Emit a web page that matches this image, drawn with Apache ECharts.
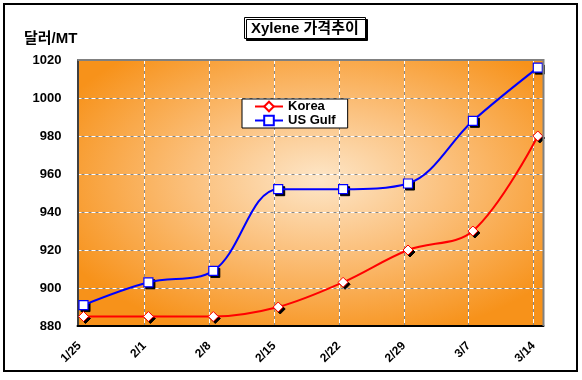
<!DOCTYPE html>
<html>
<head>
<meta charset="utf-8">
<script src="https://cdn.jsdelivr.net/npm/echarts@6/dist/echarts.min.js"></script>
<style>
html,body{margin:0;padding:0;background:#fff;}
#main{width:582px;height:380px;}
</style>
</head>
<body>
<div id="main"></div>
<script>
// ---- data ----
var categories = ['1/25', '2/1', '2/8', '2/15', '2/22', '2/29', '3/7', '3/14'];
var korea = [885, 885, 885, 890, 903, 920, 930, 980];
var usGulf = [891, 903, 909, 952, 952, 955, 988, 1016];
var seriesNames = ['Korea', 'US Gulf'];
var titleText = 'Xylene 가격추이';
var unitText = '달러/MT';
var yMin = 880, yMax = 1020, yStep = 20;

var FONT = '"Liberation Sans", "Noto Sans CJK KR", sans-serif';

// plot frame geometry
var PL = 77.5, PR = 543.5, PT = 60, PB = 326;
var W = 582, H = 380;

var chart = echarts.init(document.getElementById('main'), null, {renderer: 'canvas'});

var pw = PR - PL, ph = PB - PT;

function shadowSeries(name, data, symbol, size, z) {
  return {
    name: name + ' shadow', type: 'line', xAxisIndex: 3, yAxisIndex: 3,
    data: data, smooth: 0.35, silent: true,
    symbol: symbol, symbolSize: size, symbolOffset: [2, 2], showAllSymbol: true,
    lineStyle: {opacity: 0, width: 0},
    itemStyle: {color: '#000', borderColor: '#000', borderWidth: 1},
    z: z
  };
}

var option = {
  animation: false,
  backgroundColor: '#fff',
  title: [
    {
      text: titleText,
      left: 244, top: 17,
      padding: [4, 7, 3, 7],
      backgroundColor: '#fff',
      borderColor: '#000', borderWidth: 1,
      shadowColor: '#000', shadowOffsetX: 2, shadowOffsetY: 2, shadowBlur: 0,
      textStyle: {fontFamily: FONT, fontSize: 15, fontWeight: 'bold', color: '#000'}
    },
    {
      text: unitText,
      left: 24, top: 31,
      padding: 0,
      textStyle: {fontFamily: FONT, fontSize: 15, fontWeight: 'bold', color: '#000'}
    }
  ],
  legend: {
    data: seriesNames,
    orient: 'vertical',
    left: 242, top: 99,
    padding: [1, 12, 1, 12],
    itemGap: 1,
    itemWidth: 28, itemHeight: 12,
    backgroundColor: '#fff',
    borderColor: '#000', borderWidth: 1,
    textStyle: {fontFamily: FONT, fontSize: 13, fontWeight: 'bold', color: '#000'}
  },
  grid: [
    {left: PL, right: W - PR, top: PT, bottom: H - PB, containLabel: false},          // frame / horizontal lines
    {left: 79.5, right: W - 533.5, top: PT, bottom: H - PB, containLabel: false},      // vertical lines + x labels
    {left: 83.5, right: W - 537.8, top: PT, bottom: H - PB, containLabel: false}       // data
  ],
  xAxis: [
    {gridIndex: 0, type: 'value', min: 0, max: 1, show: true,
     axisLine: {show: true, lineStyle: {color: '#000', width: 2}},
     axisTick: {show: false}, axisLabel: {show: false}, splitLine: {show: false}},
    {gridIndex: 1, type: 'category', data: categories, boundaryGap: false,
     axisLine: {show: false}, axisTick: {show: false},
     axisLabel: {show: true, rotate: 45, margin: 18, interval: 0,
       fontFamily: FONT, fontSize: 12, fontWeight: 'bold', color: '#000'},
     splitLine: {show: true, interval: function (i) { return i !== 0; },
       lineStyle: {color: '#888', width: 1, type: 'solid'}}},
    {gridIndex: 1, type: 'category', data: categories, boundaryGap: false,
     axisLine: {show: false}, axisTick: {show: false}, axisLabel: {show: false},
     splitLine: {show: true, interval: function (i) { return i !== 0; },
       lineStyle: {color: '#fff', width: 1, type: [4, 3]}}},
    {gridIndex: 2, type: 'category', data: categories, boundaryGap: false, show: false}
  ],
  yAxis: [
    {gridIndex: 0, type: 'value', min: yMin, max: yMax, interval: yStep,
     axisLine: {show: true, lineStyle: {color: '#404040', width: 2}},
     axisTick: {show: false},
     axisLabel: {show: true, margin: 16, fontFamily: FONT, fontSize: 13, fontWeight: 'bold', color: '#000',
       formatter: function (v) { return String(v); }},
     splitLine: {show: true, lineStyle: {color: '#888', width: 1, type: 'solid'}}},
    {gridIndex: 0, type: 'value', min: yMin, max: yMax, interval: yStep,
     axisLine: {show: false}, axisTick: {show: false}, axisLabel: {show: false},
     splitLine: {show: true, lineStyle: {color: '#fff', width: 1, type: [4, 3]}}},
    {gridIndex: 1, type: 'value', min: yMin, max: yMax, show: false, splitLine: {show: false}},
    {gridIndex: 2, type: 'value', min: yMin, max: yMax, show: false, splitLine: {show: false}}
  ],
  graphic: [
    // plot background (radial gradient stretched into an ellipse)
    {
      type: 'rect', z: -10, silent: true,
      x: PL, y: PT, scaleX: pw / ph, scaleY: 1,
      shape: {x: 0, y: 0, width: ph, height: ph},
      style: {
        fill: {
          type: 'radial', x: 0.52, y: 0.45, r: 0.62,
          colorStops: [
            {offset: 0, color: '#fde6c8'},
            {offset: 0.45, color: '#fbc07c'},
            {offset: 1, color: '#f7921a'}
          ]
        }
      }
    },
    // plot frame top/right gray
    {
      type: 'polyline', z: 5, silent: true,
      shape: {points: [[PL, PT], [PR, PT], [PR, PB]]},
      style: {stroke: '#808080', lineWidth: 2, fill: null}
    },
    // outer chart border
    {
      type: 'rect', z: 5, silent: true,
      shape: {x: 4, y: 4, width: 573, height: 367},
      style: {fill: null, stroke: '#000', lineWidth: 2}
    }
  ],
  series: [
    shadowSeries(seriesNames[0], korea, 'diamond', 10, 2),
    shadowSeries(seriesNames[1], usGulf, 'rect', 9, 2),
    {
      name: seriesNames[0], type: 'line', xAxisIndex: 3, yAxisIndex: 3,
      data: korea, smooth: 0.35,
      symbol: 'diamond', symbolSize: 10,
      lineStyle: {color: '#ff0000', width: 2},
      itemStyle: {color: '#fff', borderColor: '#ff0000', borderWidth: 1},
      z: 3
    },
    {
      name: seriesNames[1], type: 'line', xAxisIndex: 3, yAxisIndex: 3,
      data: usGulf, smooth: 0.35,
      symbol: 'rect', symbolSize: 9,
      lineStyle: {color: '#0000ff', width: 2},
      itemStyle: {color: '#fff', borderColor: '#0000ff', borderWidth: 1.2},
      z: 4
    }
  ]
};
chart.setOption(option);
</script>
</body>
</html>
